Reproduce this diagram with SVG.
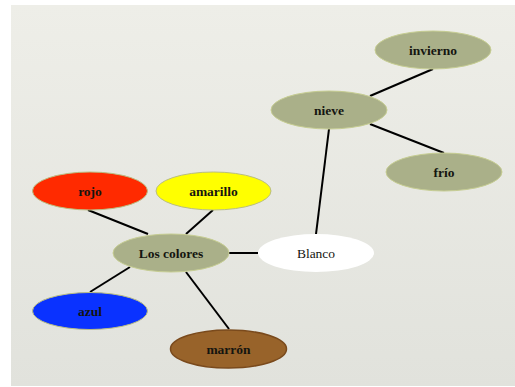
<svg xmlns="http://www.w3.org/2000/svg" width="515" height="387" viewBox="0 0 515 387">
<defs>
<linearGradient id="bg" x1="0" y1="0" x2="0" y2="1">
<stop offset="0" stop-color="#eeeee8"/>
<stop offset="1" stop-color="#e1e2dc"/>
</linearGradient>
</defs>
<style>
.olive{fill:#aab089;stroke:#c6cd92;stroke-width:1}
.lbl{font-family:"Liberation Serif","Times New Roman",serif;font-size:13.5px;font-weight:bold;fill:#151510;text-anchor:middle;dominant-baseline:central}
.reg{font-weight:normal}
.edge{stroke:#000;stroke-width:2;fill:none}
</style>
<rect width="515" height="387" fill="#ffffff"/>
<rect x="11" y="5" width="504" height="381" fill="url(#bg)"/>
<g id="connectors">
<line class="edge" x1="433" y1="69" x2="370" y2="96"/>
<line class="edge" x1="370" y1="124" x2="444" y2="153"/>
<line class="edge" x1="329" y1="129" x2="316" y2="234"/>
<line class="edge" x1="88" y1="210" x2="148" y2="234"/>
<line class="edge" x1="213" y1="210" x2="186" y2="234"/>
<line class="edge" x1="229" y1="253" x2="258" y2="253"/>
<line class="edge" x1="130" y1="267" x2="90" y2="292"/>
<line class="edge" x1="186" y1="272" x2="229" y2="329"/>
</g>
<g id="invierno"><ellipse class="olive" cx="433" cy="50" rx="58" ry="19"/><text class="lbl" x="433" y="50">invierno</text></g>
<g id="nieve"><ellipse class="olive" cx="329" cy="110" rx="58" ry="19"/><text class="lbl" x="329" y="110">nieve</text></g>
<g id="frio"><ellipse class="olive" cx="444" cy="172" rx="58" ry="19"/><text class="lbl" x="444" y="172">frío</text></g>
<g id="rojo"><ellipse cx="90" cy="191" rx="57.5" ry="19" fill="#ff2a00" stroke="#b9bd82" stroke-width="1"/><text class="lbl" x="90" y="191">rojo</text></g>
<g id="amarillo"><ellipse cx="213.5" cy="191" rx="57.5" ry="19" fill="#ffff00" stroke="#b9bd82" stroke-width="1"/><text class="lbl" x="213.5" y="191">amarillo</text></g>
<g id="los-colores"><ellipse class="olive" cx="171" cy="253" rx="58" ry="19"/><text class="lbl" x="171" y="253">Los colores</text></g>
<g id="blanco"><ellipse cx="316" cy="253" rx="58" ry="19" fill="#ffffff"/><text class="lbl reg" x="316" y="253">Blanco</text></g>
<g id="azul"><ellipse cx="90" cy="311" rx="57.5" ry="18.5" fill="#0a32ff" stroke="#b9bd82" stroke-width="1"/><text class="lbl" x="90" y="311">azul</text></g>
<g id="marron"><ellipse cx="228.5" cy="349" rx="58" ry="19" fill="#98632a" stroke="#7a4a1c" stroke-width="1.5"/><text class="lbl" x="228.5" y="349">marrón</text></g>
</svg>
